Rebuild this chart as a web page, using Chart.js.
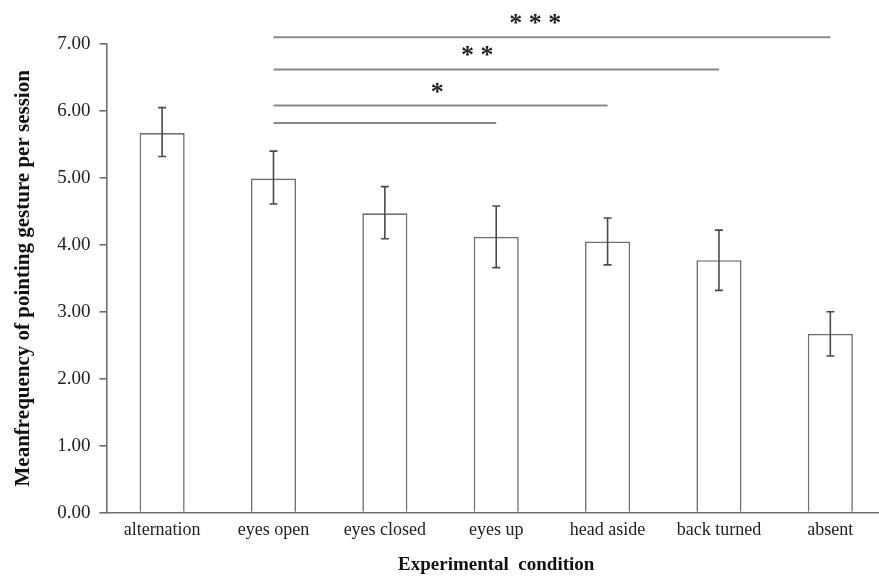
<!DOCTYPE html>
<html>
<head>
<meta charset="utf-8">
<script src="https://cdn.jsdelivr.net/npm/chart.js@4.4.1/dist/chart.umd.min.js"></script>
<style>
  html, body { margin: 0; padding: 0; background: #fff; overflow: hidden; }
  #wrap { position: absolute; left: 0; top: 0; width: 892px; height: 577px; }
</style>
</head>
<body>
<div id="wrap"><canvas id="chart" width="892" height="577"></canvas></div>
<script>
// data
const conditions = ['alternation', 'eyes open', 'eyes closed', 'eyes up', 'head aside', 'back turned', 'absent'];
const meanFreq = [5.67, 4.99, 4.47, 4.12, 4.05, 3.77, 2.67];
const errHigh = [6.05, 5.40, 4.87, 4.58, 4.40, 4.22, 3.00];
const errLow = [5.32, 4.61, 4.09, 3.66, 3.70, 3.32, 2.34];
const yTicks = [0, 1, 2, 3, 4, 5, 6, 7];

// significance brackets: from, to, height
const sigFrom = ['eyes open', 'eyes open', 'eyes open', 'eyes open'];
const sigTo = ['eyes up', 'head aside', 'back turned', 'absent'];
const sigLevel = [5.82, 6.08, 6.62, 7.10];
const sigStars = ['', '*', '* *', '* * *'];
const starPos = [0, 2.47, 2.83, 3.35];   // category index where stars sit

const GREY = '#6f6f6f';
const serif = '"Liberation Serif", "DejaVu Serif", serif';

const errorBars = {
    id: 'errorBars',
    afterDatasetsDraw(chart) {
        const { ctx, scales: { y } } = chart;
        const meta = chart.getDatasetMeta(0);
        ctx.save();
        ctx.strokeStyle = '#4a4a4a';
        ctx.lineWidth = 1.6;
        meta.data.forEach((bar, i) => {
            const top = y.getPixelForValue(errHigh[i]);
            const bot = y.getPixelForValue(errLow[i]);
            ctx.beginPath();
            ctx.moveTo(bar.x, top); ctx.lineTo(bar.x, bot);
            ctx.moveTo(bar.x - 4, top); ctx.lineTo(bar.x + 4, top);
            ctx.moveTo(bar.x - 4, bot); ctx.lineTo(bar.x + 4, bot);
            ctx.stroke();
        });
        ctx.restore();
    }
};

const starLabels = {
    id: 'starLabels',
    afterDatasetsDraw(chart) {
        const { ctx, scales: { x, y } } = chart;
        ctx.save();
        ctx.fillStyle = '#222';
        ctx.font = 'bold 26px ' + serif;
        ctx.textAlign = 'center';
        ctx.textBaseline = 'alphabetic';
        sigStars.forEach((s, i) => {
            if (!s) return;
            ctx.fillText(s, x.getPixelForValue(starPos[i]), y.getPixelForValue(sigLevel[i]) - 6);
        });
        ctx.restore();
    }
};

const sigSets = sigLevel.map((lvl, i) => ({
    type: 'line',
    data: [{ x: sigFrom[i], y: lvl }, { x: sigTo[i], y: lvl }],
    borderColor: '#8a8a8a',
    borderWidth: 2,
    pointRadius: 0,
    clip: false,
    order: 0
}));

new Chart(document.getElementById('chart'), {
    type: 'bar',
    data: {
        labels: conditions,
        datasets: [{
            data: meanFreq,
            backgroundColor: '#ffffff',
            borderColor: GREY,
            borderWidth: 1.6,
            barPercentage: 0.405,
            categoryPercentage: 1,
            order: 1
        }, ...sigSets]
    },
    options: {
        responsive: false,
        animation: false,
        layout: { padding: { top: 44, left: 11, right: 6, bottom: 1 } },
        plugins: { legend: { display: false }, tooltip: { enabled: false } },
        scales: {
            x: {
                grid: { display: false, drawTicks: false },
                border: { color: GREY, width: 1.6 },
                ticks: { color: '#222', font: { family: serif, size: 18 }, padding: 7 },
                title: { display: true, text: 'Experimental  condition', color: '#111',
                         font: { family: serif, size: 19, weight: 'bold' }, padding: { top: 5, bottom: 0 } }
            },
            y: {
                min: 0, max: 7,
                afterBuildTicks: (scale) => { scale.ticks = yTicks.map(v => ({ value: v })); },
                grid: { drawOnChartArea: false, drawTicks: true, tickLength: 7, color: GREY, lineWidth: 1.6 },
                border: { color: GREY, width: 1.6 },
                ticks: { color: '#222', font: { family: serif, size: 19 }, padding: 9,
                         callback: (v) => Number(v).toFixed(2) },
                title: { display: true, text: 'Meanfrequency of pointing gesture per session', color: '#111',
                         font: { family: serif, size: 21, weight: 'bold' }, padding: { top: 0, bottom: 12 } }
            }
        }
    },
    plugins: [errorBars, starLabels]
});
</script>
</body>
</html>
